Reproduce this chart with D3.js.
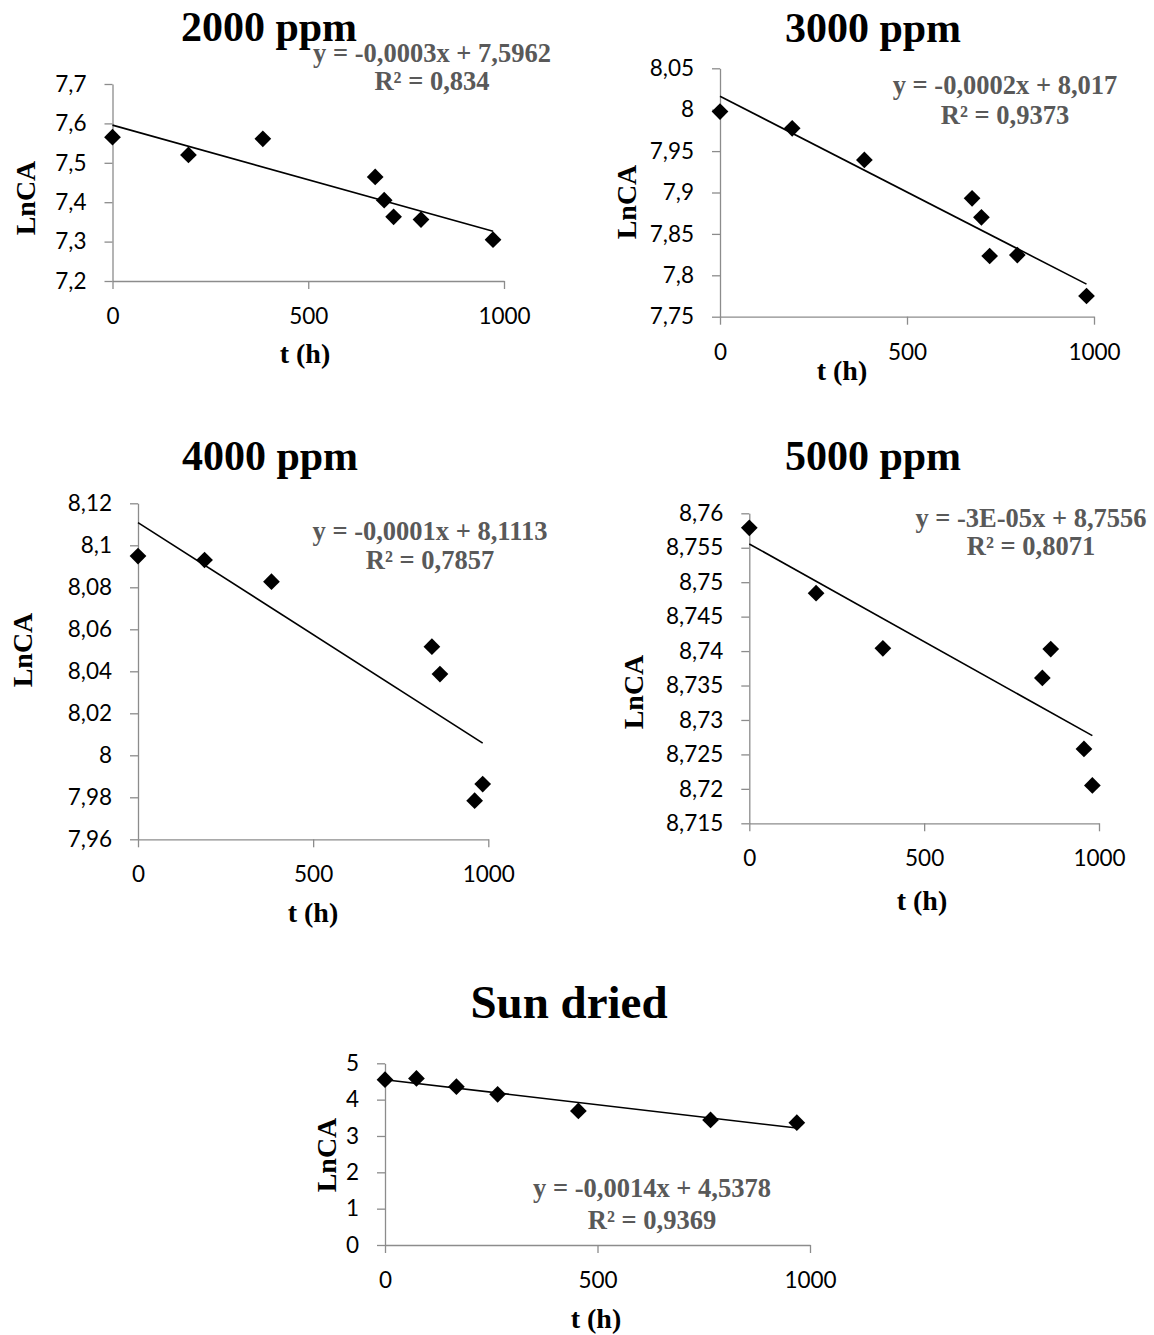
<!DOCTYPE html>
<html>
<head>
<meta charset="utf-8">
<script src="https://cdn.jsdelivr.net/npm/d3@7"></script>
<style>
  body { margin: 0; background: #fff; }
  svg { display: block; }
</style>
</head>
<body>
<svg id="chart" width="1154" height="1335"></svg>
<script>
// ---- Data: elapsed time t (h) and LnCA for each treatment ----
const panelTitles = ["2000 ppm", "3000 ppm", "4000 ppm", "5000 ppm", "Sun dried"];

const t2000 = [0, 194, 384, 671, 694, 718, 788, 972];
const y2000 = [7.565, 7.520, 7.561, 7.464, 7.405, 7.363, 7.356, 7.305];

const t3000 = [0, 193, 386, 674, 699, 721, 795, 980];
const y3000 = [7.9977, 7.9775, 7.9393, 7.893, 7.870, 7.8233, 7.8245, 7.775];

const t4000 = [0, 190, 381, 839, 862, 961, 984];
const y4000 = [8.0949, 8.0930, 8.0827, 8.0517, 8.0387, 7.9784, 7.9863];

const t5000 = [0, 191, 382, 838, 862, 957, 981];
const y5000 = [8.7579, 8.7484, 8.7404, 8.7361, 8.7403, 8.7258, 8.7205];

const tSun = [0, 74, 168, 265, 455, 766, 969];
const ySun = [4.55, 4.585, 4.355, 4.145, 3.69, 3.44, 3.365];

// ---- Tick values ----
const xTicks = [0, 500, 1000];
const yTicks2000 = [7.2, 7.3, 7.4, 7.5, 7.6, 7.7];
const yTicks3000 = [7.75, 7.8, 7.85, 7.9, 7.95, 8, 8.05];
const yTicks4000 = [7.96, 7.98, 8, 8.02, 8.04, 8.06, 8.08, 8.1, 8.12];
const yTicks5000 = [8.715, 8.72, 8.725, 8.73, 8.735, 8.74, 8.745, 8.75, 8.755, 8.76];
const yTicksSun = [0, 1, 2, 3, 4, 5];

// ---- Trendline equation labels ----
const eqLine1 = ["y = -0,0003x + 7,5962", "y = -0,0002x + 8,017", "y = -0,0001x + 8,1113", "y = -3E-05x + 8,7556", "y = -0,0014x + 4,5378"];
const eqLine2 = ["R² = 0,834", "R² = 0,9373", "R² = 0,7857", "R² = 0,8071", "R² = 0,9369"];

const series = [
  { t: t2000, y: y2000, ticks: yTicks2000 },
  { t: t3000, y: y3000, ticks: yTicks3000 },
  { t: t4000, y: y4000, ticks: yTicks4000 },
  { t: t5000, y: y5000, ticks: yTicks5000 },
  { t: tSun,  y: ySun,  ticks: yTicksSun }
];

// ---- Page placement of each small chart ----
const layout = [
  { x0: 112.5, x1: 504,  yb: 281,   yt: 84,    titleX: 269, titleY: 41,   titleSize: 42, eqX: 432,  eqY: [62, 90],    yLabX: 25,  yLabY: 198, xLabX: 305, xLabY: 363 },
  { x0: 720,   x1: 1094, yb: 316.7, yt: 68.3,  titleX: 873, titleY: 42,   titleSize: 42, eqX: 1005, eqY: [94, 124],   yLabX: 626, yLabY: 202, xLabX: 842, xLabY: 380 },
  { x0: 138,   x1: 488.3,yb: 839.3, yt: 503.3, titleX: 270, titleY: 470,  titleSize: 42, eqX: 430,  eqY: [540, 569],  yLabX: 22,  yLabY: 650, xLabX: 313, xLabY: 922 },
  { x0: 749.3, x1: 1099, yb: 823.3, yt: 513.3, titleX: 873, titleY: 470,  titleSize: 42, eqX: 1031, eqY: [527, 555],  yLabX: 633, yLabY: 692, xLabX: 922, xLabY: 910 },
  { x0: 385,   x1: 810,  yb: 1245,  yt: 1063.3,titleX: 569, titleY: 1018, titleSize: 47, eqX: 652,  eqY: [1197, 1229],yLabX: 326, yLabY: 1155,xLabX: 596, xLabY: 1328 }
];

const serif = "'Times New Roman', 'Liberation Serif', serif";
const sans = "Lato, Carlito, Calibri, 'Open Sans', sans-serif";
const axisGray = "#8c8c8c";
const fmt = d => String(d).replace(".", ",");

// Ordinary least-squares fit, as used for the linear trendline
function linearFit(xs, ys) {
  const n = xs.length;
  const mx = d3.mean(xs), my = d3.mean(ys);
  let sxy = 0, sxx = 0;
  for (let i = 0; i < n; i++) {
    sxy += (xs[i] - mx) * (ys[i] - my);
    sxx += (xs[i] - mx) * (xs[i] - mx);
  }
  const slope = sxy / sxx;
  return { slope, intercept: my - slope * mx };
}

const svg = d3.select("#chart");
const diamond = d3.symbol().type(d3.symbolSquare).size(140);

series.forEach((s, i) => {
  const L = layout[i];
  const g = svg.append("g");

  const x = d3.scaleLinear().domain([0, 1000]).range([L.x0, L.x1]);
  const y = d3.scaleLinear().domain([s.ticks[0], s.ticks[s.ticks.length - 1]]).range([L.yb, L.yt]);

  // axes
  const gx = g.append("g")
    .attr("transform", `translate(0,${L.yb})`)
    .call(d3.axisBottom(x).tickValues(xTicks).tickSize(8).tickSizeOuter(0).tickPadding(19).tickFormat(fmt));
  const gy = g.append("g")
    .attr("transform", `translate(${L.x0},0)`)
    .call(d3.axisLeft(y).tickValues(s.ticks).tickSize(8).tickSizeOuter(0).tickPadding(18).tickFormat(fmt));

  [gx, gy].forEach(a => {
    a.select(".domain").attr("stroke", axisGray).attr("stroke-width", 1.3);
    a.selectAll(".tick line").attr("stroke", axisGray).attr("stroke-width", 1.3);
    a.selectAll(".tick text")
      .attr("fill", "#000")
      .style("font-family", sans)
      .style("font-size", "22.5px");
  });

  // linear trendline across the measured time span
  const fit = linearFit(s.t, s.y);
  const tMin = d3.min(s.t), tMax = d3.max(s.t);
  g.append("line")
    .attr("x1", x(tMin)).attr("y1", y(fit.intercept + fit.slope * tMin))
    .attr("x2", x(tMax)).attr("y2", y(fit.intercept + fit.slope * tMax))
    .attr("stroke", "#000").attr("stroke-width", 1.6);

  // diamond markers
  g.selectAll("path.pt")
    .data(s.t.map((t, k) => [t, s.y[k]]))
    .join("path")
    .attr("class", "pt")
    .attr("d", diamond)
    .attr("transform", d => `translate(${x(d[0])},${y(d[1])}) rotate(45)`)
    .attr("fill", "#000");

  // panel title
  g.append("text")
    .attr("x", L.titleX).attr("y", L.titleY)
    .attr("text-anchor", "middle")
    .style("font-family", serif).style("font-weight", "bold")
    .style("font-size", L.titleSize + "px")
    .text(panelTitles[i]);

  // trendline equation and R² as one two-line label
  const eq = g.append("text")
    .attr("text-anchor", "middle")
    .attr("fill", "#595959")
    .style("font-family", serif).style("font-weight", "bold")
    .style("font-size", "26.5px");
  [eqLine1[i], eqLine2[i]].forEach((txt, k) => {
    eq.append("tspan").attr("x", L.eqX).attr("y", L.eqY[k]).text(txt);
  });

  // axis titles
  g.append("text")
    .attr("transform", `translate(${L.yLabX + 9.5},${L.yLabY}) rotate(-90)`)
    .attr("text-anchor", "middle")
    .style("font-family", serif).style("font-weight", "bold")
    .style("font-size", "28px")
    .text("LnCA");
  g.append("text")
    .attr("x", L.xLabX).attr("y", L.xLabY)
    .attr("text-anchor", "middle")
    .style("font-family", serif).style("font-weight", "bold")
    .style("font-size", "28px")
    .text("t (h)");
});
</script>
</body>
</html>
